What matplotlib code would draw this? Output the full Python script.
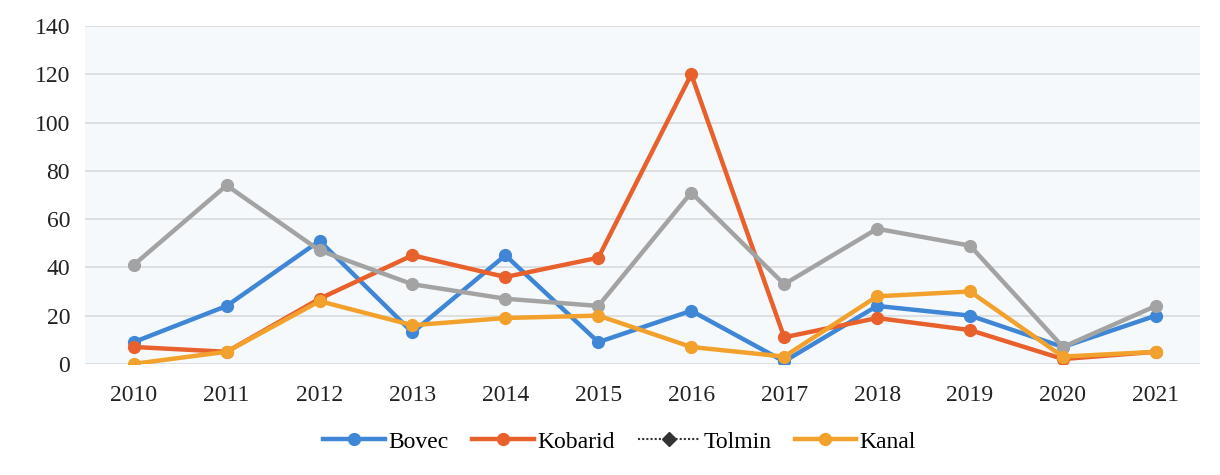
import matplotlib.pyplot as plt
from matplotlib.lines import Line2D

years = ["2010", "2011", "2012", "2013", "2014", "2015",
         "2016", "2017", "2018", "2019", "2020", "2021"]
bovec = [9, 24, 51, 13, 45, 9, 22, 1, 24, 20, 7, 20]
kobarid = [7, 5, 27, 45, 36, 44, 120, 11, 19, 14, 2, 5]
tolmin = [41, 74, 47, 33, 27, 24, 71, 33, 56, 49, 7, 24]
kanal = [0, 5, 26, 16, 19, 20, 7, 3, 28, 30, 3, 5]

series = [("Bovec", bovec, "#3f87d6"),
          ("Kobarid", kobarid, "#e8612c"),
          ("Tolmin", tolmin, "#a3a3a3"),
          ("Kanal", kanal, "#f2a22c")]

plt.rcParams["font.family"] = ["Liberation Serif", "DejaVu Serif"]

fig = plt.figure(figsize=(12.2, 4.75), dpi=100)
ax = fig.add_axes([0.07, 0.234, 0.914, 0.711])
ax.set_facecolor("#f6f9fc")

x = list(range(len(years)))
for name, vals, col in series:
    ax.plot(x, vals, color=col, lw=3.2, marker="o", ms=8.5,
            solid_capstyle="round", label=name, zorder=3)

ax.set_ylim(0, 140)
ax.set_xlim(-0.52, 11.48)
ax.set_yticks(range(0, 141, 20))
ax.set_xticks(x)
ax.set_xticklabels(years)
ax.grid(axis="y", color="#d9dcdf", lw=1.2)
ax.set_axisbelow(True)
for s in ax.spines.values():
    s.set_visible(False)
ax.tick_params(length=0, labelsize=17, colors="#222222", pad=15)
ax.tick_params(axis="y", pad=11)

# legend handles as they appear in the scan
handles = [
    Line2D([], [], color="#3f87d6", lw=3.2, marker="o", ms=8.5),
    Line2D([], [], color="#e8612c", lw=3.2, marker="o", ms=8.5),
    Line2D([], [], color="#333333", lw=1.5, ls=(0, (1, 1)), marker="D", ms=7),
    Line2D([], [], color="#f2a22c", lw=3.2, marker="o", ms=8.5),
]
fig.legend(handles, [s[0] for s in series], loc="center", ncol=4,
           bbox_to_anchor=(0.508, 0.07), frameon=False, fontsize=17,
           handlelength=2.6, handletextpad=0.15, columnspacing=1.0)

fig.savefig("out.png", dpi=100)
